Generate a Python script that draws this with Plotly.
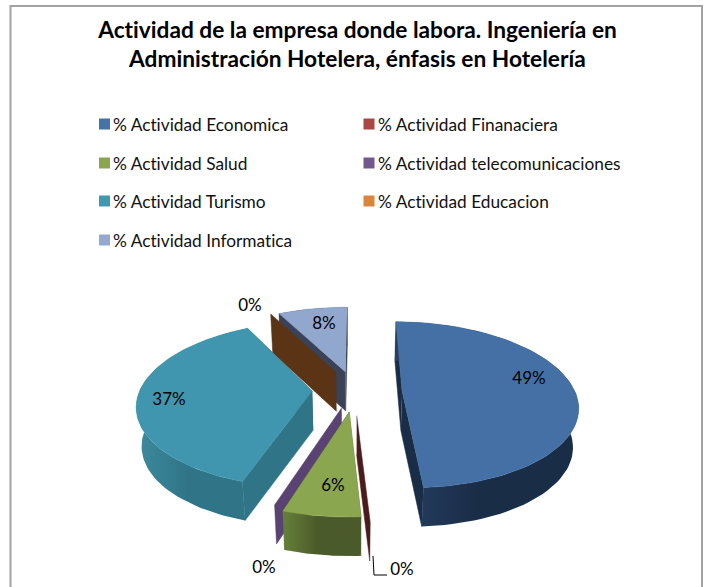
import numpy as np
import plotly.graph_objects as go

categories = ["% Actividad Economica", "% Actividad Finanaciera", "% Actividad Salud",
              "% Actividad telecomunicaciones", "% Actividad Turismo", "% Actividad Educacion",
              "% Actividad Informatica"]
values = [49.0, 0.0, 5.9, 0.0, 37.4, 0.0, 7.7]
legend_colors = ["#4572A7", "#AA4643", "#89A54E", "#71588F", "#4198AF", "#DB843D", "#93A9CF"]
top_colors = ["#4570A5", "#4A1C1C", "#8AA64E", "#5A4372", "#3F96AE", "#5A3415", "#92A7CE"]
side_colors = ["#1A2D47", "#4A1C1C", "#5C7033", "#5A4372", "#2F7587", "#5A3415", "#3A4258"]
rim_left = ["#263F63", "#4A1C1C", "#66803A", "#5A4372", "#3E8A9E", "#5A3415", "#3A4258"]
rim_right = ["#1A2D47", "#4A1C1C", "#4A5A2A", "#5A4372", "#2F7587", "#5A3415", "#3A4258"]
pulls = [0.27, 0.28, 0.24, 0.22, 0.22, 0.25, 0.25]
nudge_x = [0.02, 0.01, 0.015, 0.01, -0.011, 0.02, 0.02]
nudge_y = [0.0, 0.0, 0.0, 0.02, 0.03, 0.03, 0.015]

title_lines = ["Actividad de la empresa donde labora. Ingeniería en",
               "Administración Hotelera, énfasis en Hotelería"]
FONT = "Lato"

W, H = 708, 587
CX, CY = 352, 392
RX, RY = 173, 81
PERSP = 0.16
DEPTH = 39
SHRINK = 0.975
START = 0.3


def project(X, Y):
    d = 1 + PERSP * Y
    return CX + RX * X / d, CY - RY * Y / d


def lower(x, y):
    return CX + (x - CX) * SHRINK, y + DEPTH


def poly(fig, xs, ys, color):
    fig.add_trace(go.Scatter(x=list(xs), y=list(ys), mode="lines", fill="toself", fillcolor=color,
                             line=dict(color=color, width=0.5), hoverinfo="skip", showlegend=False))


fig = go.Figure()
total = sum(values)
angles = START + np.concatenate([[0], np.cumsum(values)]) / total * 360
spans = list(zip(angles[:-1], angles[1:]))


def wedge(i):
    a0, a1 = spans[i]
    mid = np.radians((a0 + a1) / 2)
    ox = pulls[i] * np.sin(mid) + nudge_x[i]
    oy = pulls[i] * np.cos(mid) + nudge_y[i]
    th = np.radians(np.linspace(a0, a1, 80))
    rx, ry = project(ox + np.sin(th), oy + np.cos(th))
    ax, ay = project(ox, oy)
    return ax, ay, rx, ry


# painter's order: back slices first, then front ones
order = [6, 5, 4, 3, 1, 2, 0]
for i in order:
    ax, ay, rx, ry = wedge(i)
    bax, bay = lower(ax, ay)
    brx, bry = lower(rx, ry)
    if values[i] == 0:
        poly(fig, [ax, rx[0], brx[0], bax], [ay, ry[0], bry[0], bay], top_colors[i])
        continue
    # radial side walls
    poly(fig, [ax, rx[0], brx[0], bax], [ay, ry[0], bry[0], bay], side_colors[i])
    poly(fig, [ax, rx[-1], brx[-1], bax], [ay, ry[-1], bry[-1], bay], side_colors[i])
    # rim wall with a horizontal gradient
    fig.add_trace(go.Scatter(x=np.r_[rx, brx[::-1]], y=np.r_[ry, bry[::-1]], mode="lines", fill="toself",
                             fillgradient=dict(type="horizontal",
                                               colorscale=[[0, rim_left[i]], [0.45, rim_right[i]], [1, rim_right[i]]]),
                             line=dict(width=0), hoverinfo="skip", showlegend=False))
    # top surface
    poly(fig, np.r_[ax, rx], np.r_[ay, ry], top_colors[i])

# data labels
label_x = [529, 402, 333, 264, 169, 250, 324]
label_y = [379.5, 571, 487, 569, 401, 307, 324.5]
fig.add_trace(go.Scatter(x=label_x, y=label_y,
                         mode="text", text=["%d%%" % round(v + 1e-9) for v in values], textposition="middle center",
                         textfont=dict(family=FONT, size=17, color="#000000"), hoverinfo="skip", showlegend=False))
# leader line
fig.add_trace(go.Scatter(x=[373, 374, 387], y=[556, 575, 575], mode="lines", line=dict(color="#000000", width=1),
                         hoverinfo="skip", showlegend=False))

# legend: swatches and labels
leg_col = [0, 1, 0, 1, 0, 1, 0]
leg_row = [0, 0, 1, 1, 2, 2, 3]
leg_y = [124, 163, 201, 240]
lx = [[104.5, 369][c] for c in leg_col]
ly = [leg_y[r] for r in leg_row]
fig.add_trace(go.Scatter(x=lx, y=ly, mode="markers",
                         marker=dict(symbol="square", size=11, color=legend_colors, line=dict(width=0)),
                         hoverinfo="skip", showlegend=False))
for x, y, name in zip(lx, ly, categories):
    fig.add_annotation(x=x + 6.5, y=y, text=name, showarrow=False, xanchor="left", yanchor="middle", align="left",
                       font=dict(family=FONT, size=17.3, color="#111111"))

for y, t in zip([29, 58], title_lines):
    fig.add_annotation(x=357, y=y, text="<b>%s</b>" % t, showarrow=False, xanchor="center", yanchor="middle",
                       font=dict(family=FONT, size=22.7, color="#000000"))

# chart frame, cut off by the bottom of the picture
fig.add_shape(type="rect", x0=10.5, x1=702, y0=6, y1=H + 10, line=dict(color="#A3A3A3", width=2), layer="below")

fig.update_layout(width=W, height=H, margin=dict(l=0, r=0, t=0, b=0), paper_bgcolor="white", plot_bgcolor="white",
                  autosize=False,
                  xaxis=dict(range=[0, W], visible=False, fixedrange=True),
                  yaxis=dict(range=[H, 0], visible=False, fixedrange=True))
fig.write_html("out.html", config=dict(displayModeBar=False),
               post_script="document.body.style.margin='0';document.body.style.overflow='hidden';"
                           "var s=document.createElement('style');"
                           "s.textContent='text{font-variant-ligatures:none !important}';"
                           "document.head.appendChild(s);")
